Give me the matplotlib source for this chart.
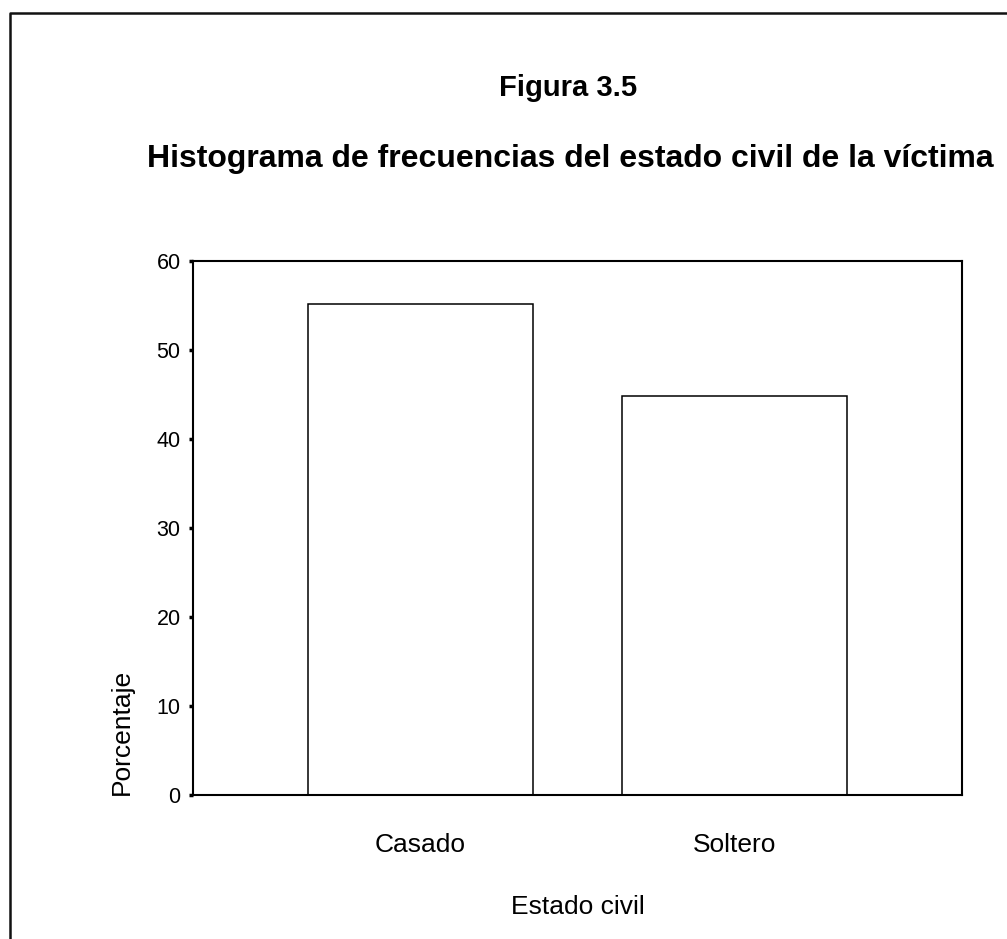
import matplotlib.pyplot as plt
from matplotlib.lines import Line2D

plt.rcParams['font.family'] = ['Liberation Sans', 'DejaVu Sans']

categorias = ['Casado', 'Soltero']
porcentajes = [55.2, 44.8]
y_ticks = [0, 10, 20, 30, 40, 50, 60]

W, H = 1007, 939
fig = plt.figure(figsize=(W / 100, H / 100), dpi=100)
fig.patch.set_facecolor('white')

# marco exterior (solo se ven borde izquierdo y superior)
fig.add_artist(Line2D([9.5 / W, 9.5 / W, 1.0], [0.0, 1 - 12.7 / H, 1 - 12.7 / H],
                      transform=fig.transFigure, color='#111111', lw=1.8))

ax = fig.add_axes([193 / W, 1 - 795 / H, (962 - 193) / W, (795 - 261) / H])
pos = range(len(categorias))
ax.bar(pos, porcentajes, width=0.718, color='white', edgecolor='black', linewidth=1.1)

ax.set_xlim(-0.726, 1.727)
ax.set_ylim(0, 60)
ax.set_yticks(y_ticks)
ax.set_xticks(list(pos))
ax.set_xticklabels(categorias, fontsize=19)
ax.tick_params(axis='x', length=0, pad=27)
ax.tick_params(axis='y', direction='out', length=3, width=2.5, labelsize=15.5, pad=6)
for s in ax.spines.values():
    s.set_linewidth(1.5)
    s.set_color('black')

fig.text(568 / W, 1 - 96 / H, 'Figura 3.5', ha='center', va='baseline',
         fontsize=21, fontweight='bold')
fig.text(570 / W, 1 - 167 / H, 'Histograma de frecuencias del estado civil de la víctima',
         ha='center', va='baseline', fontsize=23, fontweight='bold')
fig.text(578 / W, 1 - 907 / H, 'Estado civil', ha='center', va='center', fontsize=19)
fig.text(122 / W, 1 - 732 / H, 'Porcentaje', ha='center', va='center',
         rotation=90, fontsize=19)

fig.savefig('out.png', dpi=100, facecolor='white')
